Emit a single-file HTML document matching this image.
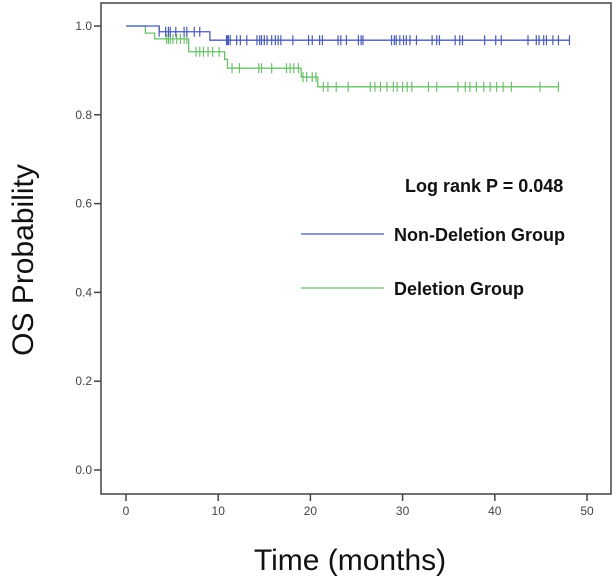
<!DOCTYPE html>
<html><head><meta charset="utf-8"><style>
html,body{margin:0;padding:0;background:#fff}
svg{display:block;font-family:"Liberation Sans",Arial,sans-serif}
</style></head><body>
<svg id="chart" width="616" height="584" viewBox="0 0 616 584" xmlns="http://www.w3.org/2000/svg">
<rect x="101" y="3" width="510" height="491" fill="#fff" stroke="#444" stroke-width="1.5"/>
<g id="axes"></g>
<g id="series"></g>
<text x="405" y="192" font-size="18" font-weight="bold" fill="#111">Log rank P = 0.048</text>
<line x1="301" y1="234" x2="384" y2="234" stroke="#4a5bb5" stroke-width="1.3"/>
<text x="394" y="241" font-size="18" font-weight="bold" fill="#111">Non-Deletion Group</text>
<line x1="301" y1="288" x2="384" y2="288" stroke="#6cc06c" stroke-width="1.3"/>
<text x="394" y="295" font-size="18" font-weight="bold" fill="#111">Deletion Group</text>
<text transform="translate(33,260) rotate(-90)" text-anchor="middle" font-size="30" fill="#111">OS Probability</text>
<text x="350" y="570" text-anchor="middle" font-size="30" fill="#111">Time (months)</text>
</svg>
<script>
const xTicks=[0,10,20,30,40,50];
const yTicks=[0,0.2,0.4,0.6,0.8,1.0];
const yTickLabels=["0.0","0.2","0.4","0.6","0.8","1.0"];
const blueStepTimes=[0,3.6,9.1,48.1];
const blueStepValues=[1.0,0.987,0.968,0.968];
const blueCensorTimes=[3.6,4.3,4.6,4.8,5.4,6.3,6.6,7.4,8.0,10.9,11.0,11.1,11.3,12.0,12.4,13.1,14.2,14.5,14.7,15.0,15.3,15.8,16.2,16.5,16.8,18.1,19.8,20.2,21.0,21.3,23.0,23.3,23.9,25.2,25.5,25.7,28.8,29.1,29.3,29.7,30.1,30.4,30.8,31.5,33.2,33.7,34.0,35.7,36.2,36.5,38.9,40.1,40.7,43.6,44.5,44.8,45.3,45.6,46.3,46.9,48.1];
const greenStepTimes=[0,2.1,3.1,6.8,10.7,11.0,19.0,20.8,46.9];
const greenStepValues=[1.0,0.984,0.971,0.942,0.925,0.905,0.885,0.863,0.863];
const greenCensorTimes=[4.4,4.6,4.8,5.1,5.5,5.9,6.3,6.6,7.6,8.0,8.4,8.9,9.4,10.1,11.5,12.3,14.4,14.7,15.8,17.4,17.8,18.2,18.7,19.2,19.6,20.2,20.6,21.4,21.9,22.8,24.1,26.5,27.0,27.6,28.3,29.0,29.4,30.0,30.5,31.0,32.8,33.7,36.0,36.8,37.3,38.0,38.8,39.5,40.2,40.9,41.8,44.9,46.9];

const NS="http://www.w3.org/2000/svg";
const X=t=>126+t*(587-126)/50;
const Y=v=>470-v*444;
function mk(tag,attrs,parent){const e=document.createElementNS(NS,tag);for(const k in attrs)e.setAttribute(k,attrs[k]);parent.appendChild(e);return e;}
const axes=document.getElementById('axes');
xTicks.forEach(t=>{
  const l=mk('line',{x1:X(t),x2:X(t),y1:494,y2:501,stroke:'#444','stroke-width':1.5},axes);
  
  
  const tx=mk('text',{x:X(t),y:515,'text-anchor':'middle','font-size':12,fill:'#444'},axes);
  tx.textContent=String(t);
  
  
});
yTicks.forEach((v,i)=>{
  const l=mk('line',{x1:94,x2:101,y1:Y(v),y2:Y(v),stroke:'#444','stroke-width':1.5},axes);
  
  
  const tx=mk('text',{x:92,y:Y(v)+4,'text-anchor':'end','font-size':12,fill:'#444'},axes);
  tx.textContent=yTickLabels[i];
  
  
});
function valAt(times,vals,t){let v=vals[0];for(let i=0;i<times.length;i++){if(times[i]<=t)v=vals[i];}return v;}
function drawSeries(times,vals,cens,color,name){
  const g=document.getElementById('series');
  let d='M'+X(times[0])+','+Y(vals[0]);
  for(let i=1;i<times.length;i++){d+=' H'+X(times[i])+' V'+Y(vals[i]);}
  const p=mk('path',{d:d,fill:'none',stroke:color,'stroke-width':1.3},g);
  
  
  cens.forEach(t=>{
    const v=valAt(times,vals,t);
    const c=mk('line',{x1:X(t),x2:X(t),y1:Y(v)-5,y2:Y(v)+5,stroke:color,'stroke-width':1.2},g);
    
    
  });
}
drawSeries(greenStepTimes,greenStepValues,greenCensorTimes,'#6cc06c','deletion');
drawSeries(blueStepTimes,blueStepValues,blueCensorTimes,'#4a5bb5','non-deletion');
</script>
</body></html>
